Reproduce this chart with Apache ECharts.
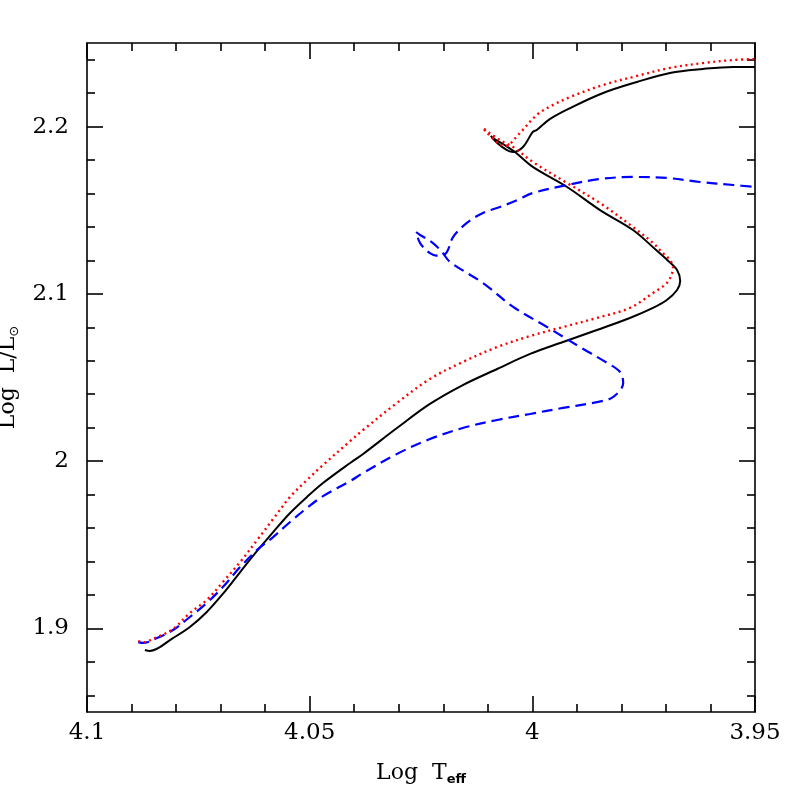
<!DOCTYPE html>
<html>
<head>
<meta charset="utf-8">
<script src="https://cdn.jsdelivr.net/npm/echarts@6/dist/echarts.min.js"></script>
<style>html,body{margin:0;padding:0;background:#fff}</style>
</head>
<body>
<div id="chart" style="width: 797px; height: 797px"></div>
<script>
// tracks: log Teff / log L
var blackLogT = [4.0870, 4.0859, 4.0807, 4.0769, 4.0731, 4.0695, 4.0656, 4.0618, 4.0582, 4.0544, 4.0506, 4.0470, 4.0409, 4.0380, 4.0304, 4.0230, 4.0156, 4.0079, 4.0005, 3.9931, 3.9855, 3.9781, 3.9729, 3.9698, 3.9675, 3.9668, 3.9675, 3.9696, 3.9722, 3.9774, 3.9848, 3.9922, 3.9999, 4.0039, 4.0066, 4.0088, 4.0093, 4.0079, 4.0057, 4.0043, 4.0021, 3.9999, 3.9990, 3.9960, 3.9915, 3.9841, 3.9765, 3.9691, 3.9617, 3.9549, 3.9500]
var blackLogL = [1.8871, 1.8865, 1.8942, 1.9008, 1.9098, 1.9206, 1.9337, 1.9463, 1.9576, 1.9690, 1.9786, 1.9869, 1.9989, 2.0043, 2.0198, 2.0342, 2.0455, 2.0551, 2.0641, 2.0712, 2.0784, 2.0856, 2.0916, 2.0963, 2.1023, 2.1077, 2.1143, 2.1200, 2.1262, 2.1382, 2.1501, 2.1639, 2.1759, 2.1848, 2.1896, 2.1932, 2.1944, 2.1902, 2.1860, 2.1848, 2.1878, 2.1968, 2.1980, 2.2046, 2.2111, 2.2201, 2.2267, 2.2321, 2.2345, 2.2357, 2.2357]

var redLogT = [4.0885, 4.0874, 4.0843, 4.0807, 4.0769, 4.0731, 4.0695, 4.0656, 4.0618, 4.0582, 4.0544, 4.0506, 4.0470, 4.0409, 4.0380, 4.0304, 4.0230, 4.0156, 4.0079, 4.0005, 3.9931, 3.9855, 3.9781, 3.9729, 3.9698, 3.9686, 3.9684, 3.9691, 3.9707, 3.9729, 3.9774, 3.9848, 3.9922, 3.9999, 4.0043, 4.0073, 4.0111, 4.0061, 4.0028, 3.9990, 3.9954, 3.9915, 3.9841, 3.9765, 3.9691, 3.9617, 3.9549, 3.9500]
var redLogL = [1.8924, 1.8918, 1.8948, 1.8996, 1.9092, 1.9170, 1.9277, 1.9397, 1.9528, 1.9654, 1.9786, 1.9887, 1.9977, 2.0120, 2.0186, 2.0348, 2.0491, 2.0593, 2.0682, 2.0748, 2.0802, 2.0856, 2.0916, 2.1005, 2.1065, 2.1125, 2.1161, 2.1203, 2.1244, 2.1304, 2.1400, 2.1543, 2.1663, 2.1789, 2.1878, 2.1920, 2.1992, 2.1884, 2.1962, 2.2070, 2.2129, 2.2177, 2.2249, 2.2303, 2.2351, 2.2380, 2.2398, 2.2404]

var blueLogT = [4.0885, 4.0874, 4.0843, 4.0807, 4.0769, 4.0731, 4.0695, 4.0656, 4.0618, 4.0582, 4.0544, 4.0506, 4.0470, 4.0409, 4.0380, 4.0304, 4.0230, 4.0156, 4.0079, 4.0005, 3.9931, 3.9855, 3.9819, 3.9796, 3.9803, 3.9832, 3.9893, 3.9967, 4.0043, 4.0111, 4.0185, 4.0201, 4.0223, 4.0252, 4.0261, 4.0252, 4.0230, 4.0207, 4.0192, 4.0178, 4.0147, 4.0111, 4.0073, 4.0034, 3.9999, 3.9922, 3.9848, 3.9774, 3.9698, 3.9624, 3.9549, 3.9500]
var blueLogL = [1.8918, 1.8913, 1.8942, 1.8990, 1.9068, 1.9152, 1.9247, 1.9367, 1.9469, 1.9546, 1.9636, 1.9720, 1.9791, 1.9881, 1.9929, 2.0043, 2.0132, 2.0198, 2.0246, 2.0282, 2.0318, 2.0353, 2.0383, 2.0467, 2.0533, 2.0587, 2.0682, 2.0802, 2.0922, 2.1065, 2.1191, 2.1244, 2.1304, 2.1352, 2.1370, 2.1304, 2.1244, 2.1226, 2.1250, 2.1340, 2.1424, 2.1484, 2.1519, 2.1561, 2.1603, 2.1651, 2.1687, 2.1699, 2.1693, 2.1669, 2.1651, 2.1639]

var yMajorTicks = [1.9, 2.0, 2.1, 2.2]
var yMinorTicks = [1.86, 1.88, 1.92, 1.94, 1.96, 1.98, 2.02, 2.04, 2.06, 2.08, 2.12, 2.14, 2.16, 2.18, 2.22, 2.24]

function zip(xs, ys) {
  return xs.map(function (x, i) { return [x, ys[i]] })
}

var FONT = 'DejaVu Serif'
var chart = echarts.init(document.getElementById('chart'))

function xAxisOf(pos, labels) {
  return {
    type: 'value',
    position: pos,
    inverse: true,
    min: 3.95,
    max: 4.1,
    interval: 0.05,
    axisLine: { show: true, lineStyle: { color: '#000', width: 1.6 } },
    axisTick: { show: true, inside: true, length: 16, lineStyle: { color: '#000', width: 1.6 } },
    minorTick: { show: true, splitNumber: 5, length: 8, lineStyle: { color: '#000', width: 1.6 } },
    splitLine: { show: false },
    axisLabel: {
      show: labels,
      margin: 10,
      color: '#000',
      fontFamily: FONT,
      fontSize: 23,
      formatter: function (v) { return String(+v.toFixed(2)) }
    }
  }
}

function yAxisOf(pos, ticks, len, labels, line) {
  return {
    type: 'value',
    position: pos,
    min: 1.85,
    max: 2.25,
    axisLine: { show: line, lineStyle: { color: '#000', width: 1.6 } },
    axisTick: { show: true, inside: true, length: len, customValues: ticks, lineStyle: { color: '#000', width: 1.6 } },
    splitLine: { show: false },
    axisLabel: {
      show: labels,
      customValues: yMajorTicks,
      margin: 18,
      color: '#000',
      fontFamily: FONT,
      fontSize: 23,
      formatter: function (v) { return String(+v.toFixed(2)) }
    }
  }
}

var xBottom = xAxisOf('bottom', true)
xBottom.name = '{a|Log  T}{b|eff}'
xBottom.nameLocation = 'middle'
xBottom.nameGap = 48
xBottom.nameTextStyle = {
  color: '#000',
  rich: {
    a: { fontFamily: FONT, fontSize: 22, color: '#000', lineHeight: 26 },
    b: { fontFamily: 'DejaVu Sans', fontSize: 13, fontWeight: 'bold', color: '#000', verticalAlign: 'bottom', lineHeight: 12 }
  }
}

var yLeft = yAxisOf('left', yMajorTicks, 16, true, true)
yLeft.name = '{a|Log  L/L}{s|⊙}'
yLeft.nameLocation = 'middle'
yLeft.nameGap = 62
yLeft.nameTextStyle = {
  color: '#000',
  rich: {
    a: { fontFamily: FONT, fontSize: 22, color: '#000', lineHeight: 26 },
    s: { fontFamily: 'DejaVu Sans', fontSize: 13, color: '#000', verticalAlign: 'bottom', lineHeight: 12 }
  }
}

var option = {
  backgroundColor: '#fff',
  animation: false,
  grid: { left: 87, right: 42, top: 43, bottom: 85, containLabel: false, outerBoundsMode: 'none' },
  xAxis: [xBottom, xAxisOf('top', false)],
  yAxis: [
    yLeft,
    yAxisOf('left', yMinorTicks, 8, false, false),
    yAxisOf('right', yMajorTicks, 16, false, true),
    yAxisOf('right', yMinorTicks, 8, false, false)
  ],
  series: [
    {
      name: 'black',
      type: 'line',
      data: zip(blackLogT, blackLogL),
      showSymbol: false,
      smooth: 0.35,
      lineStyle: { color: '#000', width: 2 }
    },
    {
      name: 'blue',
      type: 'line',
      data: zip(blueLogT, blueLogL),
      showSymbol: false,
      smooth: 0.35,
      lineStyle: { color: '#0000ff', width: 2.2, type: [11, 6] }
    },
    {
      name: 'red',
      type: 'line',
      data: zip(redLogT, redLogL),
      showSymbol: false,
      smooth: 0.35,
      lineStyle: { color: '#ff0000', width: 2.4, type: [2, 3.6] }
    }
  ]
}

chart.setOption(option)
</script>
</body>
</html>
